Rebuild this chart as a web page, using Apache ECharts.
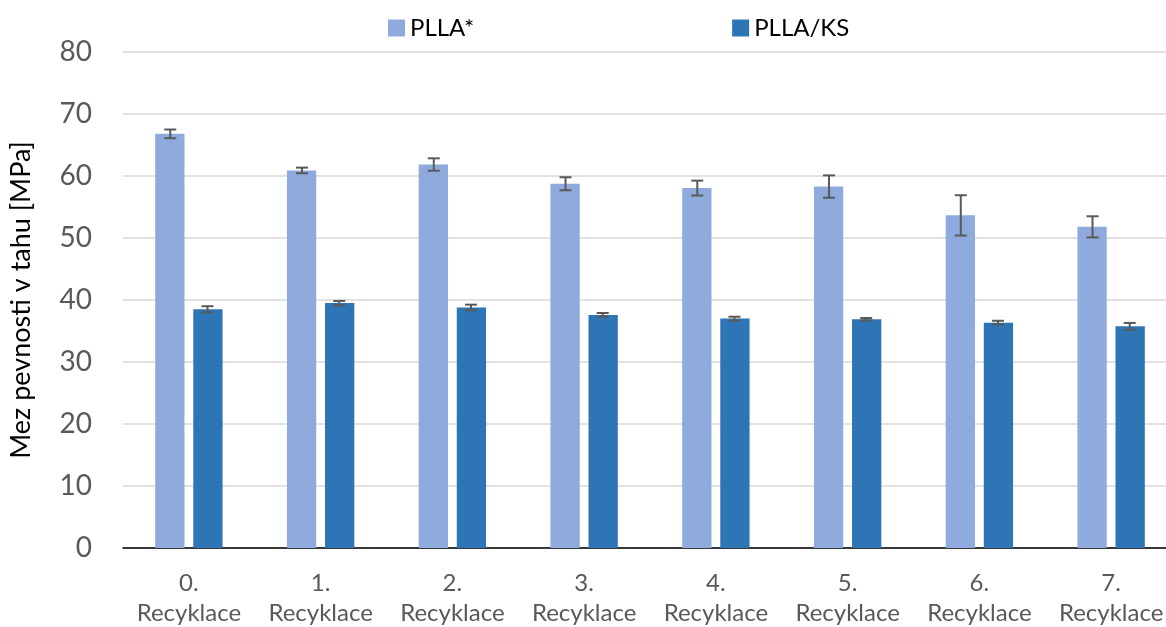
<!DOCTYPE html>
<html><head><meta charset="utf-8">
<script src="https://cdn.jsdelivr.net/npm/echarts@6/dist/echarts.min.js"></script>
<style>html,body{margin:0;padding:0;background:#fff}#c{width:1166px;height:627px}</style>
</head><body><div id="c"></div>
<script>
const categories = ['0.\nRecyklace','1.\nRecyklace','2.\nRecyklace','3.\nRecyklace','4.\nRecyklace','5.\nRecyklace','6.\nRecyklace','7.\nRecyklace'];
const seriesNames = ['PLLA*','PLLA/KS'];
const pllaValues = [66.8, 60.9, 61.85, 58.75, 58.05, 58.3, 53.65, 51.8];
const pllaErrors = [0.7, 0.45, 1.0, 1.05, 1.2, 1.8, 3.25, 1.7];
const ksValues = [38.5, 39.5, 38.8, 37.6, 37.0, 36.9, 36.35, 35.75];
const ksErrors = [0.5, 0.35, 0.45, 0.3, 0.3, 0.2, 0.3, 0.55];

const FONT = 'Lato, "Open Sans", sans-serif';
const BAR_W = 29.3, OFFSET = 18.6, CAP = 6;

function errSeries(values, errors, sign){
  return {
    type:'custom', z:10, silent:true,
    data: values.map((v,i)=>[i, v-errors[i], v+errors[i]]),
    renderItem: function(params, api){
      const lo = api.coord([api.value(0), api.value(1)]);
      const hi = api.coord([api.value(0), api.value(2)]);
      const x = lo[0] + sign*OFFSET;
      const st = {stroke:'#595959', lineWidth:2};
      return {type:'group', children:[
        {type:'line', shape:{x1:x,y1:lo[1],x2:x,y2:hi[1]}, style:st},
        {type:'line', shape:{x1:x-CAP,y1:lo[1],x2:x+CAP,y2:lo[1]}, style:st},
        {type:'line', shape:{x1:x-CAP,y1:hi[1],x2:x+CAP,y2:hi[1]}, style:st}
      ]};
    }
  };
}

const chart = echarts.init(document.getElementById('c'), null, {renderer:'canvas'});
chart.setOption({
  animation:false,
  textStyle:{fontFamily:FONT},
  legend:{
    top:11, left:383, itemWidth:17, itemHeight:17, itemGap:258,
    icon:'rect',
    textStyle:{fontSize:24, color:'#000', fontFamily:FONT},
    data:seriesNames
  },
  grid:{left:123, top:52, width:1054, height:496, containLabel:false, outerBoundsMode:'none'},
  xAxis:{
    type:'category', data:categories,
    axisLine:{lineStyle:{color:'#000', width:1.5}},
    axisTick:{show:false},
    axisLabel:{fontSize:24, color:'#595959', lineHeight:30, margin:20, fontFamily:FONT, interval:0}
  },
  yAxis:{
    type:'value', min:0, max:80, interval:10,
    name:'Mez pevnosti v tahu [MPa]', nameLocation:'middle', nameGap:88,
    nameTextStyle:{fontSize:27, color:'#000', fontFamily:FONT},
    axisLine:{show:false}, axisTick:{show:false},
    axisLabel:{fontSize:28, color:'#595959', margin:31, fontFamily:FONT},
    splitLine:{lineStyle:{color:'#d9d9d9', width:1.5}}
  },
  series:[
    {name:seriesNames[0], type:'bar', data:pllaValues, barWidth:BAR_W, barGap:'30%', itemStyle:{color:'#8faadc'}},
    {name:seriesNames[1], type:'bar', data:ksValues, barWidth:BAR_W, barGap:'30%', itemStyle:{color:'#2e75b6'}},
    errSeries(pllaValues, pllaErrors, -1),
    errSeries(ksValues, ksErrors, 1)
  ]
});
</script></body></html>
